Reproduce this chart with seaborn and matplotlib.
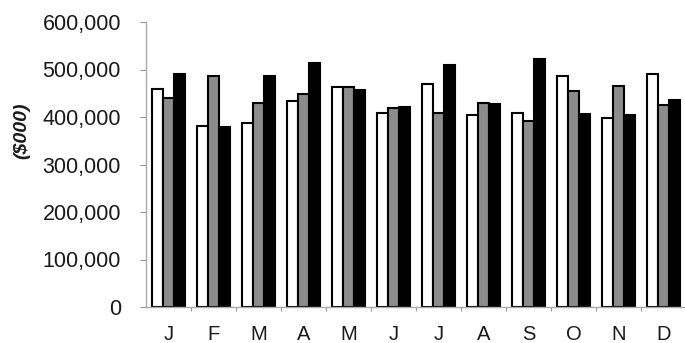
import matplotlib
matplotlib.use("Agg")
import matplotlib.pyplot as plt
import matplotlib.ticker as mticker
import numpy as np
import pandas as pd
import seaborn as sns

months = ["Jan", "Feb", "Mar", "Apr", "May", "Jun",
          "Jul", "Aug", "Sep", "Oct", "Nov", "Dec"]
month_labels = ["J", "F", "M", "A", "M", "J", "J", "A", "S", "O", "N", "D"]

year_1 = [459000, 382000, 387000, 434000, 464000, 409000,
          470000, 404000, 409000, 486000, 397000, 491000]
year_2 = [441000, 486000, 430000, 448000, 464000, 420000,
          409000, 430000, 392000, 455000, 465000, 425000]
year_3 = [490000, 378000, 486000, 513000, 457000, 422000,
          509000, 427000, 522000, 407000, 405000, 435000]
series_names = ["Year 1", "Year 2", "Year 3"]
series_colors = ["#ffffff", "#8c8c8c", "#000000"]

df = pd.DataFrame({
    "month": months * 3,
    "series": [series_names[0]] * 12 + [series_names[1]] * 12 + [series_names[2]] * 12,
    "value": year_1 + year_2 + year_3,
})

sns.set_style("white")
plt.rcParams["font.family"] = ["Liberation Sans", "DejaVu Sans"]

fig = plt.figure(figsize=(6.85, 3.43), dpi=100)
ax = fig.add_axes([146 / 685, 1 - 307 / 343, 540 / 685, 285 / 343])

sns.barplot(data=df, x="month", y="value", hue="series", order=months,
            hue_order=series_names, palette=series_colors, width=0.73,
            edgecolor="black", linewidth=1.5, legend=False, ax=ax, saturation=1)

ax.set_ylim(0, 600000)
ax.set_xlim(-0.5, 11.5)
ax.yaxis.set_major_locator(mticker.MultipleLocator(100000))
ax.yaxis.set_major_formatter(mticker.FuncFormatter(lambda v, p: f"{int(v):,}"))

ax.set_xticks(range(12))
ax.set_xticklabels(month_labels)
ax.set_xticks(np.arange(0.5, 11.5, 1), minor=True)
ax.tick_params(axis="x", which="major", length=0, pad=13, labelsize=14.5, colors="#1a1a1a")
ax.tick_params(axis="x", which="minor", bottom=True, length=3, width=0.8, color="#999999")
ax.tick_params(axis="y", which="major", left=True, length=4, width=0.8, color="#999999",
               labelsize=15.5, labelcolor="#1a1a1a", pad=14)

ax.set_xlabel("")
ax.set_ylabel("($000)", fontsize=14, fontstyle="italic", fontweight="bold", color="#1a1a1a")
ax.yaxis.set_label_coords(-0.215, 0.62)

for side in ("top", "right"):
    ax.spines[side].set_visible(False)
for side in ("left", "bottom"):
    ax.spines[side].set_color("#aaaaaa")
    ax.spines[side].set_linewidth(1.0)

fig.savefig("out.png", dpi=100)
